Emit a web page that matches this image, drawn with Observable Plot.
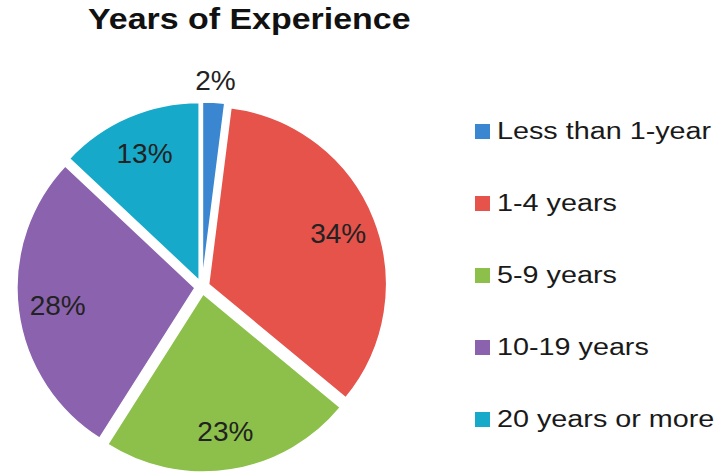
<!DOCTYPE html>
<html>
<head>
<meta charset="utf-8">
<script src="https://cdn.jsdelivr.net/npm/d3@7"></script>
<script src="https://cdn.jsdelivr.net/npm/@observablehq/plot@0.6"></script>
<style>
  body { margin: 0; background: #fff; font-family: "Liberation Sans", Arial, sans-serif; }
  #wrap { position: relative; width: 719px; height: 474px; overflow: hidden; background: #fff; }
  #title { position: absolute; left: 88px; top: 1px; font-weight: bold; font-size: 29px; line-height: 36px;
           transform: scaleX(1.17); transform-origin: 0 0; white-space: nowrap; color: #111; }
  #chart { position: absolute; left: 0; top: 44px; }
  #legend { position: absolute; left: 475px; top: 0; }
  .item { position: absolute; left: 0; display: flex; align-items: center; height: 30px; white-space: nowrap; }
  .sw { width: 15px; height: 15px; margin-right: 7px; flex: none; }
  .lab { font-size: 23px; transform: scaleX(1.25); transform-origin: 0 50%; color: #1a1a1a; }
</style>
</head>
<body>
<div id="wrap">
  <div id="title">Years of Experience</div>
  <div id="chart"></div>
  <div id="legend"></div>
</div>
<script>
const categories = ["Less than 1-year", "1-4 years", "5-9 years", "10-19 years", "20 years or more"];
const shares = [2, 34, 23, 28, 13];
const labels = ["2%", "34%", "23%", "28%", "13%"];
const colors = ["#3a86d0", "#e5534b", "#8cc04a", "#8b62ad", "#17a9c9"];

const color = Plot.scale({color: {type: "ordinal", domain: categories, range: colors}});
const arcs = d3.pie().sort(null).value(d => d)(shares);
const slices = categories.map((c, i) => ({
  category: c,
  share: shares[i],
  label: labels[i],
  start: arcs[i].startAngle,
  end: arcs[i].endAngle,
  mid: (arcs[i].startAngle + arcs[i].endAngle) / 2
}));

const explode = 0.04;
const labelR = d => d.share < 5 ? 1.16 : 0.82;

const pieMark = (index, scales) => {
  const cx = scales.x(0), cy = scales.y(0), r = scales.x(1) - cx;
  const ex = explode * r;
  const arc = d3.arc().innerRadius(0).outerRadius(r);
  const g = d3.create("svg:g");
  g.selectAll("path").data(slices).join("path")
    .attr("d", d => arc({startAngle: d.start, endAngle: d.end}))
    .attr("transform", d => `translate(${cx + ex * Math.sin(d.mid)},${cy - ex * Math.cos(d.mid)})`)
    .attr("fill", d => color.apply(d.category))
    .attr("stroke", "#fff")
    .attr("stroke-width", 1.5);
  return g.node();
};

const chart = Plot.plot({
  width: 719,
  height: 430,
  margin: 0,
  style: {background: "transparent", fontFamily: "'Liberation Sans', Arial, sans-serif"},
  x: {domain: [-1, 1], range: [24, 380], axis: null},
  y: {domain: [-1, 1], range: [421, 65], axis: null},
  marks: [
    pieMark,
    Plot.text(slices, {
      x: d => labelR(d) * Math.sin(d.mid),
      y: d => labelR(d) * Math.cos(d.mid),
      text: "label",
      fontSize: 28,
      fill: "#222"
    })
  ]
});
document.getElementById("chart").appendChild(chart);

const legend = d3.select("#legend");
categories.forEach((c, i) => {
  const item = legend.append("div").attr("class", "item").style("top", (131 + 72.2 * i - 15) + "px");
  item.append("div").attr("class", "sw").style("background", color.apply(c));
  item.append("span").attr("class", "lab").text(c);
});
</script>
</body>
</html>
